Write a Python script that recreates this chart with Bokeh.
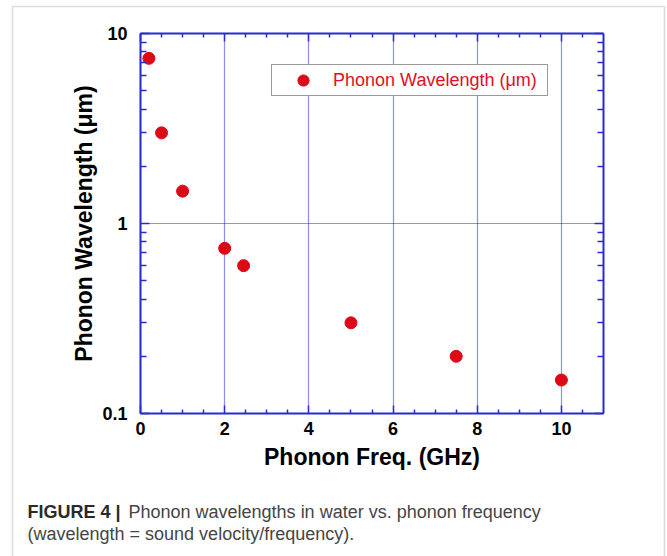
import math
from bokeh.plotting import figure
from bokeh.models import (FixedTicker, Label, Legend, LegendItem, PolyAnnotation,
                          NumeralTickFormatter, Range1d, LinearAxis, LogAxis, Grid, LogScale)
from bokeh.embed import file_html
from bokeh.resources import INLINE

# ---- data ----
freq_ghz = [0.2, 0.5, 1.0, 2.0, 2.45, 5.0, 7.5, 10.0]
wavelength_um = [7.4, 3.0, 1.48, 0.74, 0.60, 0.30, 0.20, 0.15]

x_ticks = [0, 2, 4, 6, 8, 10]
x_tick_labels = ["0", "2", "4", "6", "8", "10"]
x_minor_ticks = [0.5, 1, 1.5, 2.5, 3, 3.5, 4.5, 5, 5.5, 6.5, 7, 7.5, 8.5, 9, 9.5, 10.5]
y_ticks = [0.1, 1, 10]
y_tick_labels = ["0.1", "1", "10"]
y_minor_ticks = [0.2, 0.3, 0.4, 0.5, 0.6, 0.7, 0.8, 0.9, 2, 3, 4, 5, 6, 7, 8, 9]
x_limits = (0, 11)
y_limits = (0.1, 10)

series_label = "Phonon Wavelength (μm)"
x_title = "Phonon Freq. (GHz)"
y_title = "Phonon Wavelength (μm)"
caption_bold = "FIGURE 4 |"
caption_line1 = "Phonon wavelengths in water vs. phonon frequency"
caption_line2 = "(wavelength = sound velocity/frequency)."

# ---- layout (pixels) and styles ----
W, H = 667, 556
PX_LEFT, PX_RIGHT, PX_TOP, PX_BOTTOM = 140, 603, 33, 413
AXIS_BLUE = "#2a2ad0"
GRID_BLUE = "#1a1aff"
DOT_RED = "#dc0a16"
FONT = "Liberation Sans"

# the whole canvas is the plot frame; the data box sits inside it
xs = (x_limits[1] - x_limits[0]) / (PX_RIGHT - PX_LEFT)
x_range = Range1d(x_limits[0] - PX_LEFT * xs, x_limits[1] + (W - PX_RIGHT) * xs)
ly0, ly1 = math.log10(y_limits[0]), math.log10(y_limits[1])
ys = (ly1 - ly0) / (PX_BOTTOM - PX_TOP)
y_range = Range1d(10 ** (ly0 - (H - PX_BOTTOM) * ys), 10 ** (ly1 + PX_TOP * ys))

p = figure(width=W, height=H, x_range=x_range, y_range=y_range,
           x_axis_type=None, y_axis_type=None, y_axis_location=None, x_axis_location=None,
           output_backend="svg", toolbar_location=None, min_border=0)
p.y_scale = LogScale()
p.outline_line_color = None
p.background_fill_color = "white"
p.border_fill_color = "white"
p.xgrid.visible = False
p.ygrid.visible = False

xticker = FixedTicker(ticks=x_ticks, minor_ticks=x_minor_ticks)
yticker = FixedTicker(ticks=y_ticks, minor_ticks=y_minor_ticks)

def style_axis(ax, maj_in, min_in, show_labels):
    ax.axis_line_color = AXIS_BLUE
    ax.axis_line_width = 2
    ax.major_tick_line_color = AXIS_BLUE
    ax.minor_tick_line_color = AXIS_BLUE
    ax.major_tick_line_width = 1.5
    ax.minor_tick_line_width = 1.5
    ax.major_tick_in = maj_in
    ax.major_tick_out = 0
    ax.minor_tick_in = min_in
    ax.minor_tick_out = 0
    ax.major_label_text_font = FONT
    ax.major_label_text_font_style = "bold"
    ax.major_label_text_color = "black" if show_labels else None
    ax.major_label_text_font_size = "18px"
    ax.axis_label_text_font = FONT
    ax.axis_label_text_font_style = "bold"
    ax.axis_label_text_font_size = "23px"
    ax.axis_label_text_color = "black"

xb = LinearAxis(ticker=xticker, fixed_location=y_limits[0], bounds=x_limits)
style_axis(xb, 8, 4, True)
xb.major_label_overrides = dict(zip(x_ticks, x_tick_labels))
xb.major_label_standoff = 8
xb.axis_label = x_title
xb.axis_label_standoff = 6
p.add_layout(xb, "below")

yl = LogAxis(ticker=yticker, fixed_location=x_limits[0], bounds=y_limits)
style_axis(yl, 9, 6, True)
yl.formatter = NumeralTickFormatter(format="0.[0]")
yl.major_label_overrides = dict(zip(y_ticks, y_tick_labels))
yl.major_label_standoff = 13
yl.axis_label = y_title
yl.axis_label_standoff = 2
p.add_layout(yl, "left")

xt = LinearAxis(ticker=xticker, fixed_location=y_limits[1], bounds=x_limits)
style_axis(xt, 8, 4, False)
p.add_layout(xt, "above")

yr = LogAxis(ticker=yticker, fixed_location=x_limits[1], bounds=y_limits)
style_axis(yr, 9, 6, False)
p.add_layout(yr, "right")

# dotted grid lines inside the data box
gx = Grid(dimension=0, ticker=xticker, bounds=x_limits)
gy = Grid(dimension=1, ticker=yticker, bounds=y_limits)
have_cross = "cross_bounds" in Grid.properties()
if have_cross:
    gx.cross_bounds = y_limits
    gy.cross_bounds = x_limits
    for g in (gx, gy):
        g.grid_line_color = GRID_BLUE
        g.grid_line_width = 1.2
        g.grid_line_dash = "1 1"
        p.add_layout(g)
else:
    inner_x = [t for t in x_ticks if x_limits[0] < t < x_limits[1]]
    inner_y = [t for t in y_ticks if y_limits[0] < t < y_limits[1]]
    p.segment(x0=inner_x, x1=inner_x, y0=[y_limits[0]] * len(inner_x), y1=[y_limits[1]] * len(inner_x),
              line_color=GRID_BLUE, line_width=1.2, line_dash="1 1")
    p.segment(x0=[x_limits[0]] * len(inner_y), x1=[x_limits[1]] * len(inner_y), y0=inner_y, y1=inner_y,
              line_color=GRID_BLUE, line_width=1.2, line_dash="1 1")

r = p.scatter(freq_ghz, wavelength_um, size=12, fill_color=DOT_RED, line_color=DOT_RED)

legend = Legend(items=[LegendItem(label=series_label, renderers=[r])],
                location=(271, H - 96), padding=1,
                glyph_width=60, glyph_height=28, label_height=28,
                label_standoff=0, label_width=213,
                label_text_font=FONT, label_text_font_size="18px", label_text_color="#e0101e",
                border_line_color="#333333", border_line_width=1.5,
                background_fill_color="white", background_fill_alpha=1)
p.add_layout(legend, "center")

# caption (screen units: from the canvas' bottom-left)
CAP1_BASE, CAP2_BASE = 511, 533
p.add_layout(Label(x=27, y=H - CAP1_BASE, x_units="screen", y_units="screen", text=caption_bold,
                   text_font=FONT, text_font_style="bold", text_font_size="18px",
                   text_color="#2a2a2a", text_baseline="alphabetic"))
p.add_layout(Label(x=128, y=H - CAP1_BASE, x_units="screen", y_units="screen", text=caption_line1,
                   text_font=FONT, text_font_size="18px",
                   text_color="#454545", text_baseline="alphabetic"))
p.add_layout(Label(x=27, y=H - CAP2_BASE, x_units="screen", y_units="screen", text=caption_line2,
                   text_font=FONT, text_font_size="18px",
                   text_color="#454545", text_baseline="alphabetic"))

# outer figure frame (open at the bottom, as in the reference)
p.add_layout(PolyAnnotation(xs=[12, 12, 664, 664], ys=[-20, H - 6, H - 6, -20],
                            xs_units="screen", ys_units="screen",
                            fill_color=None, line_color="#8a8a8a", line_width=1.5))

open("out.html", "w").write(file_html(p, INLINE))
